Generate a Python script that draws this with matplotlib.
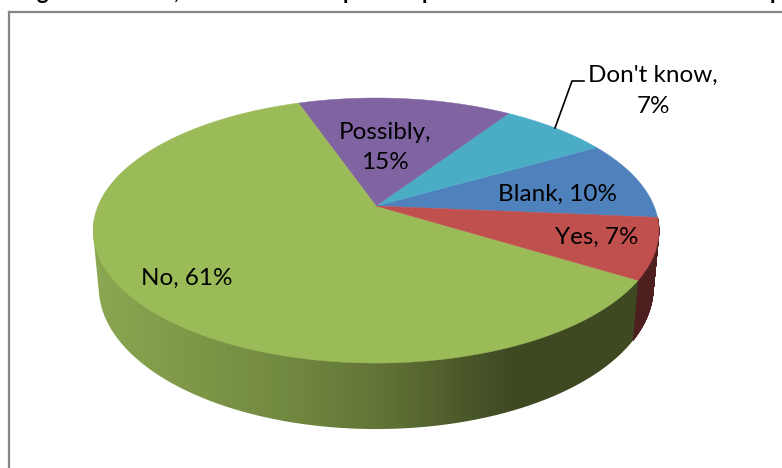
import numpy as np
import matplotlib
matplotlib.use('Agg')
import matplotlib.pyplot as plt
from matplotlib.collections import PolyCollection
from matplotlib.colors import LinearSegmentedColormap
from matplotlib.patches import Polygon

# slices, counter-clockwise from the right hand side of the pie
categories = ['Blank', "Don't know", 'Possibly', 'No', 'Yes']
values = [9.7, 7.4, 14.6, 60.9, 7.4]
colors = ['#4f81bd', '#4bacc6', '#8064a2', '#9bbb59', '#c0504d']
label_pos = [(557, 194), (653, 91), (385, 147.5), (187, 278), (597, 237)]
label_text = ['Blank, 10%', "Don't know,\n7%", 'Possibly,\n15%', 'No, 61%', 'Yes, 7%']

# what is left of the cropped heading above the frame
heading_bits = ['g', ',', 'p', 'p', 'p']
heading_x = [42, 177, 349, 428, 776]

# perspective of the pie, in pixels
cx, cy = 376, 206
A, B, k = 128, 278, 0.185
start = -5

plt.rcParams['font.family'] = ['Lato', 'DejaVu Sans']
fig = plt.figure(figsize=(7.82, 4.68), dpi=100)
ax = fig.add_axes([0, 0, 1, 1])


def top_edge(deg):
    t = np.radians(deg)
    d = 1 + k * np.sin(t)
    return cx + B * np.cos(t) / d, cy - A * np.sin(t) / d


def bottom_edge(deg):
    x, y = top_edge(deg)
    return cx + 0.98 * (x - cx), cy + 1.07 * (y - cy) + 55


def wall_quads(a0, a1, n=200):
    deg = np.linspace(a0, a1, n)
    tx, ty = top_edge(deg)
    bx, by = bottom_edge(deg)
    return [[(tx[j], ty[j]), (tx[j + 1], ty[j + 1]), (bx[j + 1], by[j + 1]), (bx[j], by[j])]
            for j in range(n - 1)]


def hull(points):
    # outline of a wall, so the side runs straight from the top rim to the bottom rim
    points = sorted(set(points))
    def half(pts):
        out = []
        for p in pts:
            while len(out) > 1 and np.cross(np.subtract(out[-1], out[-2]), np.subtract(p, out[-1])) <= 0:
                out.pop()
            out.append(p)
        return out[:-1]
    return half(points) + half(points[::-1])


edges = start + np.r_[0, np.cumsum(values)] / sum(values) * 360
shade = LinearSegmentedColormap.from_list(
    'wall', [(0, '#8ca851'), (0.38, '#70863f'), (0.55, '#5f7035'),
             (0.72, '#445026'), (0.76, '#3f4a23'), (1, '#3e4922')])

# walls first, the top faces cover whatever is behind them
for i, name in enumerate(categories):
    if name == 'No':
        deg = np.linspace(170, edges[i + 1], 400)
        outline = list(zip(*top_edge(deg))) + list(zip(*bottom_edge(deg)))
        clip = Polygon(hull(outline), closed=True, transform=ax.transData, fc='none', ec='none')
        ax.add_patch(clip)
        im = ax.imshow(np.linspace(0, 1, 256).reshape(1, -1), cmap=shade, aspect='auto',
                       extent=(90, 645, 440, 220), zorder=2)
        im.set_clip_path(clip)
    elif name == 'Yes':
        quads = wall_quads(edges[i], edges[i + 1])
        ax.add_collection(PolyCollection(quads, facecolors='#4d1f1e', edgecolors='#4d1f1e',
                                         linewidths=0.6, zorder=1))

ax.set_xlim(0, 782)
ax.set_ylim(468, 0)
ax.axis('off')

for i, name in enumerate(categories):
    deg = np.linspace(edges[i], edges[i + 1], 300)
    x, y = top_edge(deg)
    pts = np.column_stack([np.r_[cx, x], np.r_[cy, y]])
    ax.add_patch(Polygon(pts, closed=True, fc=colors[i], ec=colors[i], lw=0.3, zorder=3))

for (x, y), s in zip(label_pos, label_text):
    ax.text(x, y, s, ha='center', va='center', fontsize=17.5, color='black',
            linespacing=1.56, zorder=5)

# leader line of the Don't know label
ax.plot([555, 572, 584], [128, 81, 81], color='black', lw=1.2, zorder=4)

# chart frame, only top and left are in the crop
ax.plot([8.5, 8.5], [468, 12], color='#868686', lw=1.6, solid_joinstyle='miter', zorder=4)
ax.plot([8.5, 782], [12, 12], color='#868686', lw=1.6, zorder=4)

for x, s in zip(heading_x, heading_bits):
    ax.text(x, -1, s, ha='center', va='baseline', fontsize=16, fontweight='bold', color='black')

fig.savefig('out.png', dpi=100)
